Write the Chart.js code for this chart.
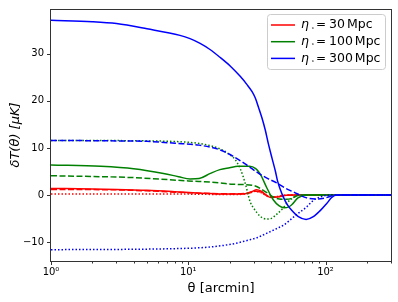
<!DOCTYPE html>
<html>
<head>
<meta charset="utf-8">
<script src="https://cdn.jsdelivr.net/npm/chart.js@4.4.1/dist/chart.umd.min.js"></script>
<style>
  html, body { margin: 0; padding: 0; background: #fff; }
</style>
</head>
<body>
<canvas id="dT" width="398" height="302"></canvas>
<script>
// values: theta in arcmin, dT in muK
const etaValues = ['30', '100', '300'];
const colors = ['#ff0000', '#008000', '#0000ff'];

const redSolidTheta = [1, 2, 3, 5, 8, 12, 20, 26, 29, 31.5, 34, 37, 40, 45, 50, 60, 300];
const redSolidVals  = [1.4, 1.3, 1.2, 1.0, 0.7, 0.4, 0.2, 0.3, 0.7, 1.1, 0.8, 0, -0.5, -0.4, -0.1, 0, 0];
const redDashTheta  = [1, 3, 5, 10, 20, 27, 31, 34, 38, 43, 50, 60, 300];
const redDashVals   = [1.2, 1.1, 0.9, 0.5, 0.25, 0.4, 0.8, 0.6, -0.2, -0.4, -0.1, 0, 0];
const redDotTheta   = [1, 10, 20, 27, 31, 34, 38, 42, 48, 60, 300];
const redDotVals    = [0.25, 0.2, 0.1, 0.3, 0.8, 0.5, -0.3, -0.4, -0.1, 0, 0];

const greenSolidTheta = [1, 2.3, 4, 6.6, 8.5, 10.3, 12, 14.5, 17, 20, 23, 28, 31, 33.4, 37.4, 41.6, 46, 50, 54, 57, 63, 73, 300];
const greenSolidVals  = [6.4, 6.1, 5.6, 4.6, 3.9, 3.4, 3.5, 4.6, 5.4, 5.8, 6.1, 6.1, 5.6, 4.5, 1.5, -1.0, -2.3, -2.7, -2.5, -2.0, -0.6, 0, 0];
const greenDashTheta  = [1, 4, 10, 17, 21, 30, 37.4, 42, 46, 52, 57, 62, 70, 300];
const greenDashVals   = [4.1, 3.7, 3.0, 2.6, 2.3, 2.0, 0.5, -0.5, -0.85, -0.9, -0.7, -0.15, 0, 0];
const greenDotTheta   = [1, 5, 10, 13, 17, 20, 22, 24, 26, 28.3, 30, 33.4, 37.4, 40, 44, 49, 53, 58, 62, 300];
const greenDotVals    = [11.6, 11.5, 11.2, 10.8, 9.8, 8.6, 7.5, 5.5, 2.5, -1.5, -2.8, -4.5, -5.1, -5.0, -4.1, -2.8, -1.5, -0.6, 0, 0];

const blueSolidTheta = [1, 2, 3, 5, 8.7, 10.3, 12.2, 14.4, 17.1, 20.2, 23.9, 26.7, 29.1, 30.8, 32.6, 34.4, 36.4,
                        38.4, 40.7, 43.1, 44.7, 46.7, 49.4, 52.8, 56.9, 63.4, 72.2, 81.5, 91.5, 102, 111, 121, 300];
const blueSolidVals  = [37.1, 36.8, 36.4, 35.3, 33.9, 33.2, 32.2, 30.9, 29.2, 27.4, 25.2, 23.5, 22.0, 20.6, 18.5, 16.4, 13.8,
                        10.8, 7.9, 5.1, 3.0, 1.3, -0.5, -2.1, -3.3, -4.6, -5.2, -4.6, -3.3, -1.8, -0.5, 0, 0];
const blueDashTheta  = [1, 3, 5, 8, 12, 17, 21, 26, 33, 38, 44, 50, 58, 73, 87, 100, 114, 130, 300];
const blueDashVals   = [11.6, 11.5, 11.4, 11.0, 10.6, 9.6, 8.3, 6.6, 4.5, 3.5, 2.6, 1.6, 0.7, -0.6, -0.85, -0.6, -0.1, 0, 0];
const blueDotTheta   = [1, 10, 20, 28, 32, 38, 45, 50, 60, 73, 81, 90, 100, 120, 300];
const blueDotVals    = [-11.6, -11.3, -10.5, -9.5, -9.0, -8.0, -7.0, -6.3, -4.4, -2.5, -1.2, -0.5, -0.1, 0, 0];

const xTickVals = [1, 2, 3, 4, 5, 6, 7, 8, 9, 10, 20, 30, 40, 50, 60, 70, 80, 90, 100, 200, 300];
const xMajor = [1, 10, 100];
const xLabels = {1: '10\u2070', 10: '10\u00b9', 100: '10\u00b2'};
const yTickVals = [-10, 0, 10, 20, 30];

const solid = [], dashed = [6, 2.5], dotted = [1.5, 2];

function series(thetas, vals, color, dash, order, label) {
  return {
    label: label,
    data: thetas.map((t, i) => ({x: t, y: vals[i]})),
    borderColor: color,
    backgroundColor: color,
    borderWidth: 1.5,
    borderDash: dash,
    pointRadius: 0,
    fill: false,
    cubicInterpolationMode: 'monotone',
    order: order
  };
}

const datasets = [
  series(redSolidTheta, redSolidVals, colors[0], solid, 2, etaValues[0]),
  series(redDashTheta, redDashVals, colors[0], dashed, 2),
  series(redDotTheta, redDotVals, colors[0], dotted, 2),
  series(greenSolidTheta, greenSolidVals, colors[1], solid, 1, etaValues[1]),
  series(greenDashTheta, greenDashVals, colors[1], dashed, 1),
  series(greenDotTheta, greenDotVals, colors[1], dotted, 1),
  series(blueSolidTheta, blueSolidVals, colors[2], solid, 0, etaValues[2]),
  series(blueDashTheta, blueDashVals, colors[2], dashed, 0),
  series(blueDotTheta, blueDotVals, colors[2], dotted, 0)
];

// frame + matplotlib style outward ticks
const framePlugin = {
  id: 'frame',
  afterDraw(chart) {
    const {ctx, chartArea: a, scales: {x, y}} = chart;
    ctx.save();
    ctx.strokeStyle = '#333';
    ctx.lineWidth = 1;
    ctx.strokeRect(a.left - 0.5, a.top + 0.5, a.right - a.left + 1, a.bottom - a.top);
    ctx.beginPath();
    xTickVals.forEach(v => {
      const px = Math.round(x.getPixelForValue(v)) + 0.5;
      const len = xMajor.includes(v) ? 4 : 2.5;
      ctx.moveTo(px, a.bottom);
      ctx.lineTo(px, a.bottom + len);
    });
    yTickVals.forEach(v => {
      const py = Math.round(y.getPixelForValue(v)) + 0.5;
      ctx.moveTo(a.left - 4, py);
      ctx.lineTo(a.left, py);
    });
    ctx.stroke();
    ctx.restore();
  }
};

// legend inside the plot, top right
const legendPlugin = {
  id: 'etaLegend',
  afterDraw(chart) {
    const {ctx, chartArea: a} = chart;
    const x0 = a.right - 124, y0 = a.top + 5, w = 118, h = 55;
    ctx.save();
    ctx.fillStyle = 'rgba(255,255,255,0.85)';
    ctx.strokeStyle = '#cccccc';
    ctx.lineWidth = 1;
    ctx.beginPath();
    ctx.roundRect(x0 + 0.5, y0 + 0.5, w, h, 3);
    ctx.fill();
    ctx.stroke();
    const rows = chart.data.datasets.filter(d => d.label);
    rows.forEach((d, i) => {
      const ry = y0 + 11 + i * 16.7;
      ctx.strokeStyle = d.borderColor;
      ctx.lineWidth = 1.5;
      ctx.beginPath();
      ctx.moveTo(x0 + 4, ry);
      ctx.lineTo(x0 + 28, ry);
      ctx.stroke();
      ctx.fillStyle = '#000';
      ctx.textBaseline = 'middle';
      ctx.font = 'italic 12.5px "DejaVu Sans"';
      ctx.fillText('\u03b7', x0 + 34, ry);
      ctx.font = '6px "DejaVu Sans"';
      ctx.fillText('\u22c6', x0 + 44, ry + 3);
      ctx.font = '12px "DejaVu Sans"';
      ctx.fillText('=', x0 + 49, ry);
      ctx.font = '12.5px "DejaVu Sans"';
      ctx.fillText(d.label, x0 + 62, ry);
      const vw = ctx.measureText(d.label).width;
      ctx.fillText('Mpc', x0 + 62 + vw + 2, ry);
    });
    ctx.restore();
  }
};

new Chart(document.getElementById('dT'), {
  type: 'line',
  data: {datasets: datasets},
  plugins: [framePlugin, legendPlugin],
  options: {
    responsive: false,
    animation: false,
    devicePixelRatio: 1,
    layout: {padding: {top: 7, right: 7, left: 0, bottom: 0}},
    plugins: {legend: {display: false}, tooltip: {enabled: false}},
    scales: {
      x: {
        type: 'logarithmic',
        min: 1,
        max: 300,
        afterBuildTicks: s => { s.ticks = xTickVals.map(v => ({value: v})); },
        afterFit: s => { s.height = 41; },
        grid: {display: true, drawOnChartArea: false, drawTicks: true, tickLength: 4, tickColor: 'rgba(0,0,0,0)'},
        border: {display: false},
        ticks: {
          autoSkip: false,
          maxRotation: 0,
          padding: 1,
          color: '#000',
          font: {family: 'DejaVu Sans', size: 10},
          callback: v => xLabels[v] || ''
        },
        title: {
          display: true,
          text: '\u03b8 [arcmin]',
          color: '#000',
          font: {family: 'DejaVu Sans', size: 13},
          padding: {top: 0, bottom: 6}
        }
      },
      y: {
        min: -14.0,
        max: 39.5,
        afterBuildTicks: s => { s.ticks = yTickVals.map(v => ({value: v})); },
        afterFit: s => { s.width = 51; },
        grid: {display: true, drawOnChartArea: false, drawTicks: true, tickLength: 4, tickColor: 'rgba(0,0,0,0)'},
        border: {display: false},
        ticks: {
          padding: 3,
          color: '#000',
          font: {family: 'DejaVu Sans', size: 10},
          callback: v => v < 0 ? '\u2212' + Math.abs(v) : String(v)
        },
        title: {
          display: true,
          text: '\u03b4T(\u03b8) [\u03bcK]',
          color: '#000',
          font: {family: 'DejaVu Sans', size: 13, style: 'italic'},
          padding: {top: 8, bottom: 0}
        }
      }
    }
  }
});
</script>
</body>
</html>
